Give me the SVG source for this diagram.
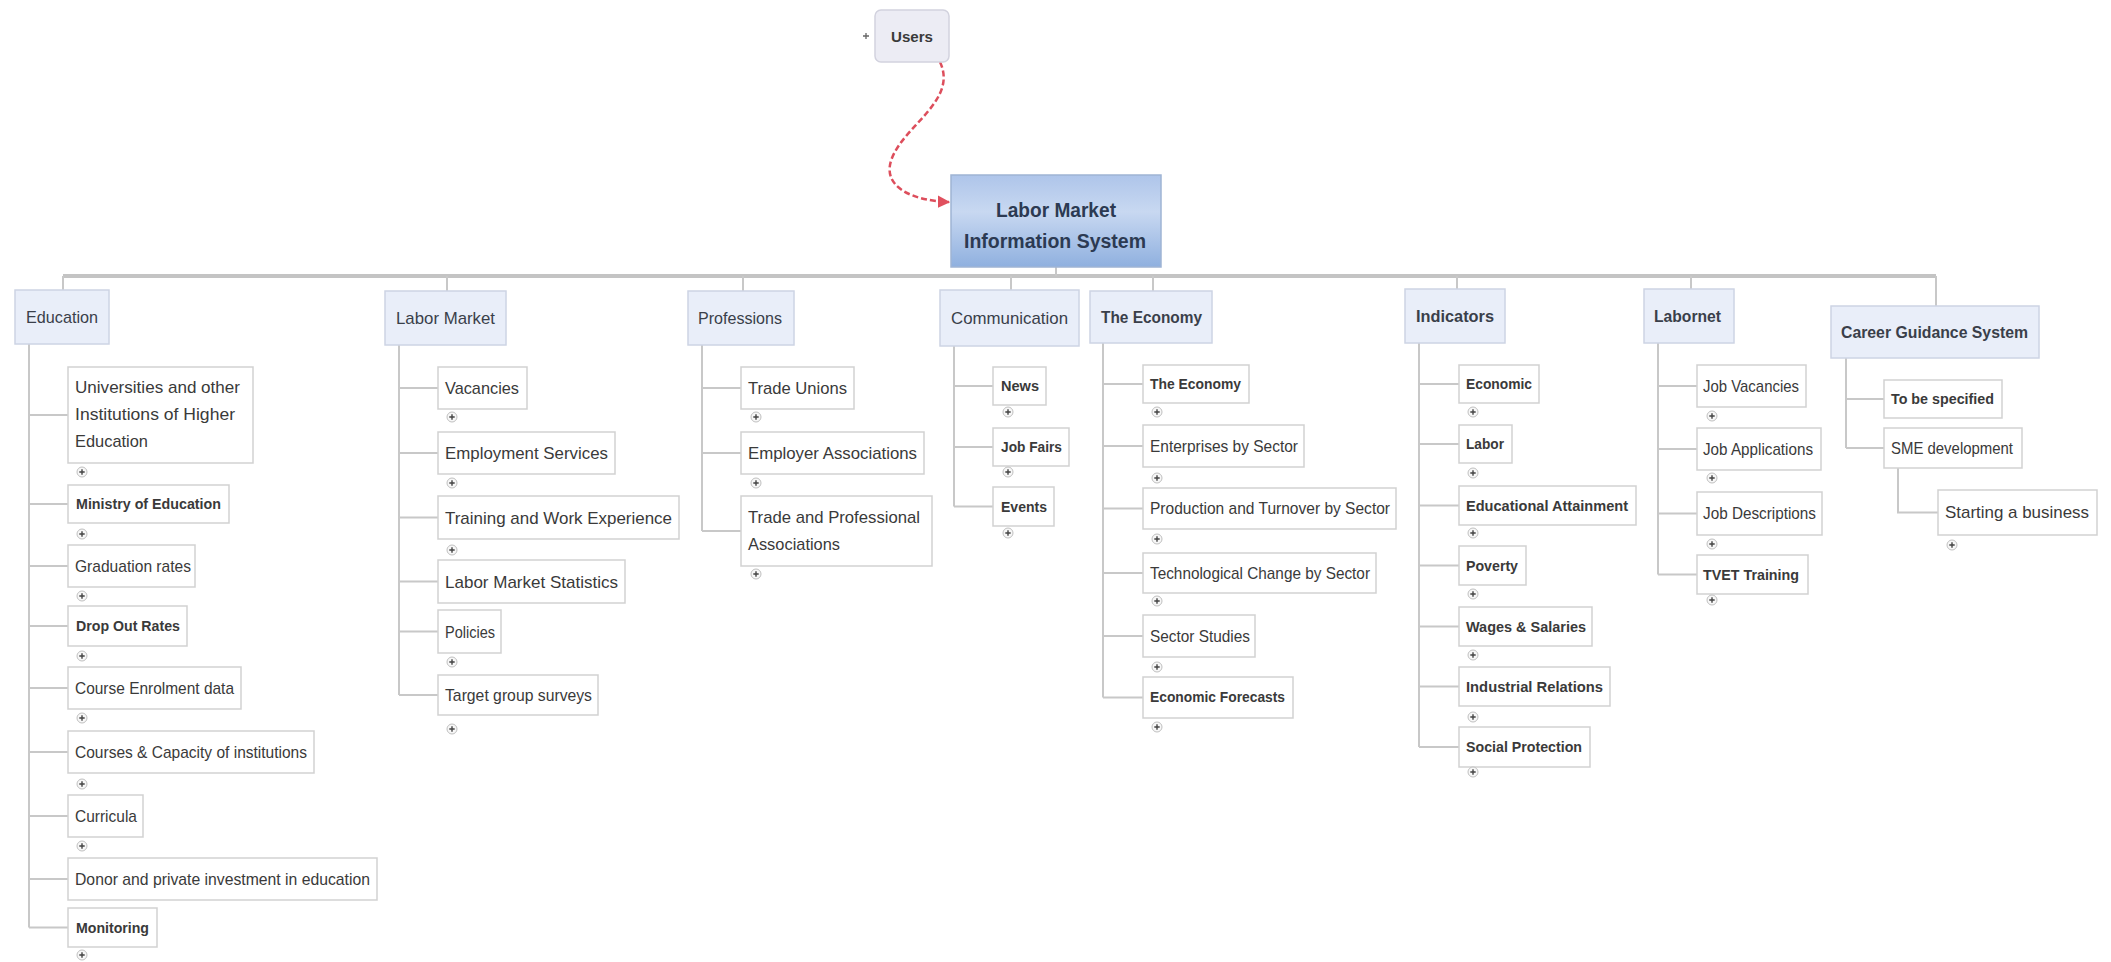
<svg xmlns="http://www.w3.org/2000/svg" xmlns:xlink="http://www.w3.org/1999/xlink" width="2111" height="962" viewBox="0 0 2111 962">
<style>
.box{fill:#ffffff;stroke:#d2d2d2;stroke-width:1.5}
.br{fill:#e9eef9;stroke:#cdd4e4;stroke-width:1.5}
text{font-family:"Liberation Sans",Arial,sans-serif}
.t{font-size:17px;fill:#3a3a3a}
.tb{font-size:15px;font-weight:bold;fill:#3a3a3a}
.bt{font-size:17px;fill:#3a3f4a}
.bb{font-size:16px;font-weight:bold;fill:#3a3f4a}
.conn line,.conn path.l{stroke:#c8c8c8;stroke-width:2;fill:none}
.pl circle{fill:#f7f7f7;stroke:#c0c0c0;stroke-width:1}
.pl path{stroke:#444;stroke-width:1.4}
</style>
<defs>
<linearGradient id="rootg" x1="0" y1="0" x2="0" y2="1">
<stop offset="0" stop-color="#aec5ea"/>
<stop offset="0.4" stop-color="#c8d8f1"/>
<stop offset="1" stop-color="#8fb0df"/>
</linearGradient>
<marker id="arr" viewBox="0 0 10 10" refX="9" refY="5" markerWidth="5" markerHeight="5" orient="auto">
<path d="M0 0L10 5L0 10z" fill="#e0505e"/>
</marker>
<g id="plus" class="pl"><circle r="5"/><path d="M-2.7 0H2.7M0 -2.7V2.7"/></g>
</defs>
<rect width="2111" height="962" fill="#ffffff"/>

<g id="connectors" class="conn">
<line x1="63" y1="276" x2="1936" y2="276" style="stroke:#c4c4c4;stroke-width:4"/>
<line x1="1056" y1="267" x2="1056" y2="276"/>
<line x1="63" y1="276" x2="63" y2="290"/>
<line x1="447" y1="276" x2="447" y2="291"/>
<line x1="743" y1="276" x2="743" y2="291"/>
<line x1="1011" y1="276" x2="1011" y2="290"/>
<line x1="1153" y1="276" x2="1153" y2="291"/>
<line x1="1457" y1="276" x2="1457" y2="289"/>
<line x1="1691" y1="276" x2="1691" y2="289"/>
<line x1="1936" y1="276" x2="1936" y2="306"/>
<path class="l" d="M29 344V927.5M29 415H68M29 504H68M29 566H68M29 626H68M29 688H68M29 752H68M29 816H68M29 879H68M29 927.5H68"/>
<path class="l" d="M399 345V695M399 388H438M399 453H438M399 517.5H438M399 581.5H438M399 631.5H438M399 695H438"/>
<path class="l" d="M702 345V531M702 388H741M702 453H741M702 531H741"/>
<path class="l" d="M954 346V506.5M954 386H993M954 447H993M954 506.5H993"/>
<path class="l" d="M1103 343V697.5M1103 384H1143M1103 446H1143M1103 508.5H1143M1103 573H1143M1103 636H1143M1103 697.5H1143"/>
<path class="l" d="M1419 343V747M1419 384H1459M1419 444H1459M1419 505.5H1459M1419 565.5H1459M1419 626.5H1459M1419 686.5H1459M1419 747H1459"/>
<path class="l" d="M1658 343V574.5M1658 386H1697M1658 449H1697M1658 513.5H1697M1658 574.5H1697"/>
<path class="l" d="M1846 358V448M1846 399H1884M1846 448H1884M1898 468V512.5H1938"/>
<path d="M940 62C958 100 905 125 892 158C880 188 915 201 949 202" fill="none" stroke="#dd4e5c" stroke-width="2.5" stroke-dasharray="6 3" marker-end="url(#arr)"/>
</g>

<g id="users">
<rect x="875" y="10" width="74" height="52" rx="6" fill="#ececf4" stroke="#d2d2de" stroke-width="1.5"/>
<text x="891" y="42" class="tb" textLength="42" lengthAdjust="spacingAndGlyphs">Users</text>
<path d="M863 36H869M866 33V39" stroke="#666" stroke-width="1.3"/>
</g>

<g id="root">
<rect x="951" y="175" width="210" height="92" fill="url(#rootg)" stroke="#9fb4d4" stroke-width="1.5"/>
<text x="996" y="217" font-size="19.5" font-weight="bold" fill="#2c3a52" textLength="120" lengthAdjust="spacingAndGlyphs">Labor Market</text>
<text x="964" y="248" font-size="19.5" font-weight="bold" fill="#2c3a52" textLength="182" lengthAdjust="spacingAndGlyphs">Information System</text>
</g>

<g id="education"><rect class="br" x="15" y="290" width="94" height="54"/><text class="bt" x="26" y="323" textLength="72" lengthAdjust="spacingAndGlyphs">Education</text></g>
<g id="edu-universities"><rect class="box" x="68" y="367" width="185" height="96"/><text class="t" x="75" y="393" textLength="165" lengthAdjust="spacingAndGlyphs">Universities and other</text><text class="t" x="75" y="420" textLength="160" lengthAdjust="spacingAndGlyphs">Institutions of Higher</text><text class="t" x="75" y="447" textLength="73" lengthAdjust="spacingAndGlyphs">Education</text><use href="#plus" x="82" y="472"/></g>
<g id="edu-ministry"><rect class="box" x="68" y="485" width="161" height="38"/><text class="tb" x="76" y="509" textLength="145" lengthAdjust="spacingAndGlyphs">Ministry of Education</text><use href="#plus" x="82" y="534"/></g>
<g id="edu-graduation"><rect class="box" x="68" y="545" width="127" height="42"/><text class="t" x="75" y="572" textLength="116" lengthAdjust="spacingAndGlyphs">Graduation rates</text><use href="#plus" x="82" y="596"/></g>
<g id="edu-dropout"><rect class="box" x="68" y="606" width="119" height="40"/><text class="tb" x="76" y="631" textLength="104" lengthAdjust="spacingAndGlyphs">Drop Out Rates</text><use href="#plus" x="82" y="656"/></g>
<g id="edu-enrolment"><rect class="box" x="68" y="667" width="173" height="42"/><text class="t" x="75" y="694" textLength="159" lengthAdjust="spacingAndGlyphs">Course Enrolment data</text><use href="#plus" x="82" y="718"/></g>
<g id="edu-courses"><rect class="box" x="68" y="731" width="246" height="42"/><text class="t" x="75" y="758" textLength="232" lengthAdjust="spacingAndGlyphs">Courses &amp; Capacity of institutions</text><use href="#plus" x="82" y="784"/></g>
<g id="edu-curricula"><rect class="box" x="68" y="795" width="75" height="42"/><text class="t" x="75" y="822" textLength="62" lengthAdjust="spacingAndGlyphs">Curricula</text><use href="#plus" x="82" y="846"/></g>
<g id="edu-donor"><rect class="box" x="68" y="858" width="309" height="42"/><text class="t" x="75" y="885" textLength="295" lengthAdjust="spacingAndGlyphs">Donor and private investment in education</text></g>
<g id="edu-monitoring"><rect class="box" x="68" y="908" width="89" height="39"/><text class="tb" x="76" y="933" textLength="73" lengthAdjust="spacingAndGlyphs">Monitoring</text><use href="#plus" x="82" y="955"/></g>

<g id="labor-market"><rect class="br" x="385" y="291" width="121" height="54"/><text class="bt" x="396" y="324" textLength="99" lengthAdjust="spacingAndGlyphs">Labor Market</text></g>
<g id="lm-vacancies"><rect class="box" x="438" y="367" width="89" height="42"/><text class="t" x="445" y="394" textLength="74" lengthAdjust="spacingAndGlyphs">Vacancies</text><use href="#plus" x="452" y="417"/></g>
<g id="lm-employment"><rect class="box" x="438" y="432" width="177" height="42"/><text class="t" x="445" y="459" textLength="163" lengthAdjust="spacingAndGlyphs">Employment Services</text><use href="#plus" x="452" y="483"/></g>
<g id="lm-training"><rect class="box" x="438" y="496" width="241" height="43"/><text class="t" x="445" y="524" textLength="227" lengthAdjust="spacingAndGlyphs">Training and Work Experience</text><use href="#plus" x="452" y="550"/></g>
<g id="lm-statistics"><rect class="box" x="438" y="560" width="187" height="43"/><text class="t" x="445" y="588" textLength="173" lengthAdjust="spacingAndGlyphs">Labor Market Statistics</text></g>
<g id="lm-policies"><rect class="box" x="438" y="610" width="63" height="43"/><text class="t" x="445" y="638" textLength="50" lengthAdjust="spacingAndGlyphs">Policies</text><use href="#plus" x="452" y="662"/></g>
<g id="lm-target"><rect class="box" x="438" y="675" width="160" height="40"/><text class="t" x="445" y="701" textLength="147" lengthAdjust="spacingAndGlyphs">Target group surveys</text><use href="#plus" x="452" y="729"/></g>

<g id="professions"><rect class="br" x="688" y="291" width="106" height="54"/><text class="bt" x="698" y="324" textLength="84" lengthAdjust="spacingAndGlyphs">Professions</text></g>
<g id="pr-unions"><rect class="box" x="741" y="367" width="113" height="42"/><text class="t" x="748" y="394" textLength="99" lengthAdjust="spacingAndGlyphs">Trade Unions</text><use href="#plus" x="756" y="417"/></g>
<g id="pr-employer"><rect class="box" x="741" y="432" width="183" height="42"/><text class="t" x="748" y="459" textLength="169" lengthAdjust="spacingAndGlyphs">Employer Associations</text><use href="#plus" x="756" y="483"/></g>
<g id="pr-trade"><rect class="box" x="741" y="496" width="191" height="70"/><text class="t" x="748" y="523" textLength="172" lengthAdjust="spacingAndGlyphs">Trade and Professional</text><text class="t" x="748" y="550" textLength="92" lengthAdjust="spacingAndGlyphs">Associations</text><use href="#plus" x="756" y="574"/></g>

<g id="communication"><rect class="br" x="940" y="290" width="139" height="56"/><text class="bt" x="951" y="324" textLength="117" lengthAdjust="spacingAndGlyphs">Communication</text></g>
<g id="co-news"><rect class="box" x="993" y="367" width="53" height="38"/><text class="tb" x="1001" y="391" textLength="38" lengthAdjust="spacingAndGlyphs">News</text><use href="#plus" x="1008" y="412"/></g>
<g id="co-jobfairs"><rect class="box" x="993" y="428" width="76" height="38"/><text class="tb" x="1001" y="452" textLength="61" lengthAdjust="spacingAndGlyphs">Job Fairs</text><use href="#plus" x="1008" y="472"/></g>
<g id="co-events"><rect class="box" x="993" y="487" width="61" height="39"/><text class="tb" x="1001" y="512" textLength="46" lengthAdjust="spacingAndGlyphs">Events</text><use href="#plus" x="1008" y="533"/></g>

<g id="the-economy"><rect class="br" x="1090" y="291" width="122" height="52"/><text class="bb" x="1101" y="323" textLength="101" lengthAdjust="spacingAndGlyphs">The Economy</text></g>
<g id="ec-economy"><rect class="box" x="1143" y="365" width="106" height="38"/><text class="tb" x="1150" y="389" textLength="91" lengthAdjust="spacingAndGlyphs">The Economy</text><use href="#plus" x="1157" y="412"/></g>
<g id="ec-enterprises"><rect class="box" x="1143" y="425" width="161" height="42"/><text class="t" x="1150" y="452" textLength="148" lengthAdjust="spacingAndGlyphs">Enterprises by Sector</text><use href="#plus" x="1157" y="478"/></g>
<g id="ec-production"><rect class="box" x="1143" y="488" width="253" height="41"/><text class="t" x="1150" y="514" textLength="240" lengthAdjust="spacingAndGlyphs">Production and Turnover by Sector</text><use href="#plus" x="1157" y="539"/></g>
<g id="ec-technological"><rect class="box" x="1143" y="553" width="233" height="40"/><text class="t" x="1150" y="579" textLength="220" lengthAdjust="spacingAndGlyphs">Technological Change by Sector</text><use href="#plus" x="1157" y="601"/></g>
<g id="ec-sector"><rect class="box" x="1143" y="615" width="112" height="42"/><text class="t" x="1150" y="642" textLength="100" lengthAdjust="spacingAndGlyphs">Sector Studies</text><use href="#plus" x="1157" y="667"/></g>
<g id="ec-forecasts"><rect class="box" x="1143" y="677" width="150" height="41"/><text class="tb" x="1150" y="702" textLength="135" lengthAdjust="spacingAndGlyphs">Economic Forecasts</text><use href="#plus" x="1157" y="727"/></g>

<g id="indicators"><rect class="br" x="1405" y="289" width="100" height="54"/><text class="bb" x="1416" y="322" textLength="78" lengthAdjust="spacingAndGlyphs">Indicators</text></g>
<g id="in-economic"><rect class="box" x="1459" y="365" width="80" height="38"/><text class="tb" x="1466" y="389" textLength="66" lengthAdjust="spacingAndGlyphs">Economic</text><use href="#plus" x="1473" y="412"/></g>
<g id="in-labor"><rect class="box" x="1459" y="425" width="53" height="38"/><text class="tb" x="1466" y="449" textLength="38" lengthAdjust="spacingAndGlyphs">Labor</text><use href="#plus" x="1473" y="473"/></g>
<g id="in-education"><rect class="box" x="1459" y="486" width="177" height="39"/><text class="tb" x="1466" y="511" textLength="162" lengthAdjust="spacingAndGlyphs">Educational Attainment</text><use href="#plus" x="1473" y="533"/></g>
<g id="in-poverty"><rect class="box" x="1459" y="546" width="67" height="39"/><text class="tb" x="1466" y="571" textLength="52" lengthAdjust="spacingAndGlyphs">Poverty</text><use href="#plus" x="1473" y="594"/></g>
<g id="in-wages"><rect class="box" x="1459" y="607" width="133" height="39"/><text class="tb" x="1466" y="632" textLength="120" lengthAdjust="spacingAndGlyphs">Wages &amp; Salaries</text><use href="#plus" x="1473" y="655"/></g>
<g id="in-industrial"><rect class="box" x="1459" y="667" width="151" height="39"/><text class="tb" x="1466" y="692" textLength="137" lengthAdjust="spacingAndGlyphs">Industrial Relations</text><use href="#plus" x="1473" y="717"/></g>
<g id="in-social"><rect class="box" x="1459" y="727" width="131" height="40"/><text class="tb" x="1466" y="752" textLength="116" lengthAdjust="spacingAndGlyphs">Social Protection</text><use href="#plus" x="1473" y="772"/></g>

<g id="labornet"><rect class="br" x="1644" y="289" width="90" height="54"/><text class="bb" x="1654" y="322" textLength="67" lengthAdjust="spacingAndGlyphs">Labornet</text></g>
<g id="ln-vacancies"><rect class="box" x="1697" y="365" width="109" height="42"/><text class="t" x="1703" y="392" textLength="96" lengthAdjust="spacingAndGlyphs">Job Vacancies</text><use href="#plus" x="1712" y="416"/></g>
<g id="ln-applications"><rect class="box" x="1697" y="428" width="124" height="42"/><text class="t" x="1703" y="455" textLength="110" lengthAdjust="spacingAndGlyphs">Job Applications</text><use href="#plus" x="1712" y="478"/></g>
<g id="ln-descriptions"><rect class="box" x="1697" y="492" width="125" height="43"/><text class="t" x="1703" y="519" textLength="113" lengthAdjust="spacingAndGlyphs">Job Descriptions</text><use href="#plus" x="1712" y="544"/></g>
<g id="ln-tvet"><rect class="box" x="1697" y="555" width="111" height="39"/><text class="tb" x="1703" y="580" textLength="96" lengthAdjust="spacingAndGlyphs">TVET Training</text><use href="#plus" x="1712" y="600"/></g>

<g id="career-guidance"><rect class="br" x="1831" y="306" width="208" height="52"/><text class="bb" x="1841" y="338" textLength="187" lengthAdjust="spacingAndGlyphs">Career Guidance System</text></g>
<g id="cg-specified"><rect class="box" x="1884" y="380" width="118" height="38"/><text class="tb" x="1891" y="404" textLength="103" lengthAdjust="spacingAndGlyphs">To be specified</text></g>
<g id="cg-sme"><rect class="box" x="1884" y="428" width="138" height="40"/><text class="t" x="1891" y="454" textLength="122" lengthAdjust="spacingAndGlyphs">SME development</text></g>
<g id="cg-starting"><rect class="box" x="1938" y="490" width="159" height="45"/><text class="t" x="1945" y="518" textLength="144" lengthAdjust="spacingAndGlyphs">Starting a business</text><use href="#plus" x="1952" y="545"/></g>
</svg>
